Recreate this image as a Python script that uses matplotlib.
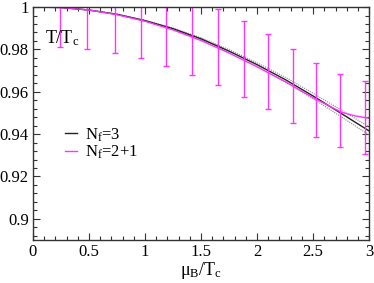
# T/Tc vs mu_B/Tc: Nf=3 curve with band, Nf=2+1 curve with error bars

import matplotlib
matplotlib.use('Agg')
import matplotlib.pyplot as plt
from matplotlib.ticker import MultipleLocator, FuncFormatter

# N_f = 3 central curve and band half width
mu_nf3 = [0.0, 0.25, 0.5, 0.75, 1.0, 1.25, 1.5, 1.75, 2.0, 2.25, 2.5, 2.75, 3.0]
t_nf3 = [1.0, 0.9998, 0.9986, 0.9966, 0.9936, 0.9898, 0.9850, 0.9792, 0.9728,
         0.9658, 0.9580, 0.9498, 0.9415]
band_nf3 = [0.0, 0.0, 0.0, 0.0001, 0.0002, 0.0003, 0.0005, 0.0007, 0.0009,
            0.0011, 0.0013, 0.0016, 0.0019]

# N_f = 2+1 central curve
mu_nf21 = [0.0, 0.25, 0.5, 0.75, 1.0, 1.25, 1.5, 1.75, 2.0, 2.25, 2.5, 2.75, 2.875, 3.0]
t_nf21 = [1.0, 0.9998, 0.9986, 0.9964, 0.9933, 0.9892, 0.9842, 0.9783, 0.9718,
          0.9648, 0.9572, 0.9504, 0.9486, 0.9475]

# N_f = 2+1 error bars
mu_err = [0.24, 0.48, 0.73, 0.96, 1.19, 1.42, 1.65, 1.88, 2.10, 2.32, 2.53, 2.74, 2.96]
t_err = [0.9998, 0.9986, 0.9966, 0.9938, 0.9905, 0.9866, 0.9810, 0.9755, 0.9694,
         0.9627, 0.9560, 0.9510, 0.9478]
d_err = [0.0185, 0.0186, 0.0182, 0.0180, 0.0183, 0.0186, 0.0179, 0.0178, 0.0177,
         0.0176, 0.0175, 0.0172, 0.0174]

plt.rcParams['font.family'] = ['Liberation Serif', 'DejaVu Serif']
plt.rcParams['mathtext.fontset'] = 'custom'
plt.rcParams['mathtext.rm'] = 'Liberation Serif'
plt.rcParams['mathtext.it'] = 'Liberation Serif:italic'

magenta = '#ff33ff'

fig = plt.figure(figsize=(3.74, 2.83), dpi=100)
ax = fig.add_axes([0.088, 0.152, 0.899, 0.823])

upper = [t + b for t, b in zip(t_nf3, band_nf3)]
lower = [t - b for t, b in zip(t_nf3, band_nf3)]
ax.plot(mu_nf3, upper, color='#888888', lw=0.8, ls=(0, (1, 1)))
ax.plot(mu_nf3, lower, color='#888888', lw=0.8, ls=(0, (1, 1)))
ax.plot(mu_nf3, t_nf3, color='#222222', lw=1.0, label=r'N$_\mathrm{f}$=3')

ax.plot(mu_nf21, t_nf21, color=magenta, lw=1.0, label=r'N$_\mathrm{f}$=2+1')
ax.errorbar(mu_err, t_err, yerr=d_err, fmt='none', ecolor=magenta,
            elinewidth=1.0, capsize=2.5, capthick=1.0)

ax.set_xlim(0, 3)
ax.set_ylim(0.89, 1.0)

ax.xaxis.set_major_locator(MultipleLocator(0.5))
ax.xaxis.set_minor_locator(MultipleLocator(0.1))
ax.yaxis.set_major_locator(MultipleLocator(0.02))
ax.yaxis.set_minor_locator(MultipleLocator(0.004))
ax.xaxis.set_major_formatter(FuncFormatter(lambda v, p: '%g' % round(v, 3)))
ax.yaxis.set_major_formatter(FuncFormatter(lambda v, p: '%g' % round(v, 3)))

ax.tick_params(which='both', direction='in', top=True, right=True,
               labelsize=12, width=0.8, color='#333333')
ax.tick_params(which='major', length=5, pad=3)
ax.tick_params(which='minor', length=3)
for s in ax.spines.values():
    s.set_linewidth(1.0)
    s.set_color('#333333')

ax.set_xlabel('μ$_\\mathrm{B}$/T$_\\mathrm{c}$', fontsize=13, labelpad=0)
ax.text(0.105, 0.9855, r'T/T$_\mathrm{c}$', fontsize=13, ha='left', va='center')

ax.legend(loc='center left', bbox_to_anchor=(0.095, 0.414), frameon=False,
          fontsize=12, handlelength=0.7, handletextpad=0.5, labelspacing=0.0,
          borderpad=0, borderaxespad=0)

fig.savefig('out.png', dpi=100)
